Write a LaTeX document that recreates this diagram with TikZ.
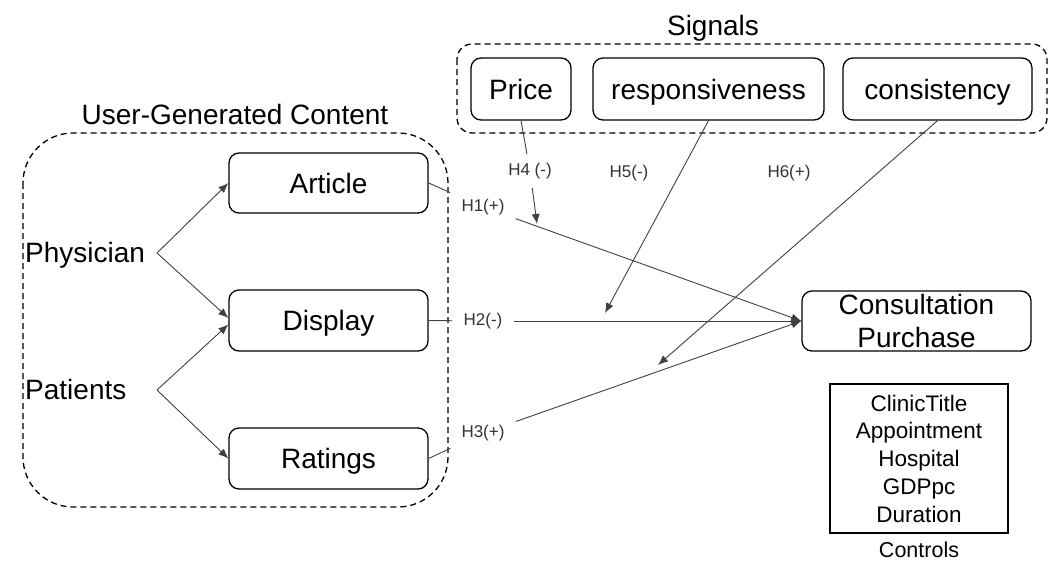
\documentclass[tikz,border=0pt]{standalone}
\usepackage{fontspec}
\setmainfont{Liberation Sans}
\usetikzlibrary{arrows.meta}
\begin{document}
\begin{tikzpicture}[x=1pt,y=-1pt,
  rbox/.style={draw, line width=1.3pt, rounded corners=10pt, inner sep=0pt,
    text height=20pt, text depth=0pt, font=\fontsize{28}{33}\selectfont},
  grp/.style={draw, dash pattern=on 6pt off 4pt, line width=1.3pt},
  big/.style={font=\fontsize{28}{33}\selectfont, inner sep=0pt},
  hyp/.style={font=\fontsize{17}{20}\selectfont, inner xsep=11pt, inner ysep=9pt, text=black!80},
  conn/.style={line width=0.9pt, draw=black!75},
  arr/.style={conn, -{Latex[length=10pt,width=8pt]}}
]
\useasboundingbox (0,0) rectangle (1051,562);

% group frames
\draw[grp, rounded corners=50pt] (23,133) rectangle (448,507);
\draw[grp, rounded corners=15pt] (457,44) rectangle (1047,133);
\node[big, anchor=base] (ugct) at (235,124) {User-Generated Content};
\node[big, anchor=base] (sigt) at (713,35) {Signals};

% UGC boxes
\node[rbox, minimum width=199pt, minimum height=60pt] (article) at (328.5,183) {Article};
\node[rbox, minimum width=199pt, minimum height=61pt] (display) at (328.5,320.5) {Display};
\node[rbox, minimum width=199pt, minimum height=61pt] (ratings) at (328.5,458.5) {Ratings};

\node[big, anchor=base west] (phys) at (25,262) {Physician};
\node[big, anchor=base west] (pati) at (25,399) {Patients};
\coordinate (ps) at (157,253);
\coordinate (pt) at (157,390);

% signals
\node[rbox, minimum width=100pt, minimum height=62pt] (price) at (521,89) {Price};
\node[rbox, minimum width=231pt, minimum height=62pt] (resp) at (708.5,89) {responsiveness};
\node[rbox, minimum width=189pt, minimum height=62pt] (cons) at (937.5,89) {consistency};

% outcome
\node[draw, line width=1.3pt, rounded corners=10pt, inner sep=0pt, align=center,
  minimum width=229pt, minimum height=60pt, font=\fontsize{28}{33}\selectfont]
  (consult) at (916.5,321) {Consultation\\Purchase};

% controls
\node[draw, line width=1.3pt, inner sep=0pt, align=center,
  minimum width=178pt, minimum height=149pt, font=\fontsize{22.5}{27.75}\selectfont]
  (ctrl) at (919,458.5) {ClinicTitle\\Appointment\\Hospital\\GDPpc\\Duration};
\node[anchor=base, inner sep=0pt, font=\fontsize{21.5}{26}\selectfont] (ctrlt) at (919,557) {Controls};

% hypothesis labels
\node[hyp] (h1) at (483,207) {H1(+)};
\node[hyp] (h2) at (483,321) {H2(-)};
\node[hyp] (h3) at (483,433) {H3(+)};
\node[hyp] (h4) at (530,171) {H4 (-)};
\node[hyp] (h5) at (629,173) {H5(-)};
\node[hyp] (h6) at (789,173) {H6(+)};

% arrows inside UGC
\draw[arr] (ps) -- (article.west);
\draw[arr] (ps) -- ([yshift=2.5pt]display.west);
\draw[arr] (pt) -- ([yshift=-4pt]display.west);
\draw[arr] (pt) -- (ratings.west);

% main effects
\draw[conn] (article.east) -- (h1);
\draw[arr] (h1) -- (consult.west);
\draw[conn] (display.east) -- (h2);
\draw[arr] (h2) -- (consult.west);
\draw[conn] (ratings.east) -- (h3);
\draw[arr] (h3) -- (consult.west);

% moderators
\coordinate (t4) at (537,224);
\coordinate (t5) at (605,313);
\coordinate (t6) at (658,365);
\draw[conn] (price.south) -- (h4);
\draw[arr] (h4) -- (t4);
\draw[arr] (resp.south) -- (t5);
\draw[arr] (cons.south) -- (t6);
\end{tikzpicture}
\end{document}
